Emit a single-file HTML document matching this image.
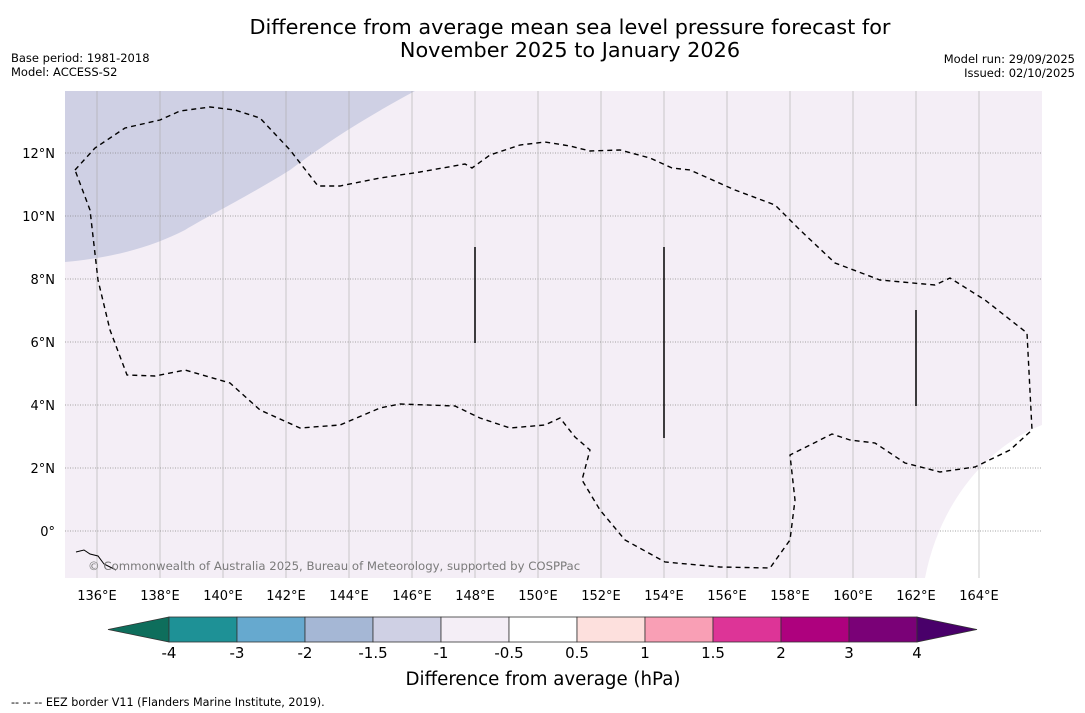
<!DOCTYPE html>
<html><head><meta charset="utf-8">
<style>
body{margin:0;background:#fff;font-family:"Liberation Sans","DejaVu Sans",sans-serif;}
#wrap{position:relative;width:1085px;height:713px;overflow:hidden;background:#fff}
svg text{font-family:"DejaVu Sans","Liberation Sans",sans-serif}
</style></head>
<body>
<div id="wrap">
<svg id="svg" width="1085" height="713" xmlns="http://www.w3.org/2000/svg">
<text x="570" y="34" font-size="20.8" text-anchor="middle">Difference from average mean sea level pressure forecast for</text>
<text x="570" y="57" font-size="20.8" text-anchor="middle">November 2025 to January 2026</text>
<text x="11" y="62" font-size="11.5">Base period: 1981-2018</text>
<text x="11" y="76" font-size="11.5">Model: ACCESS-S2</text>
<text x="1075" y="63" font-size="11.5" text-anchor="end">Model run: 29/09/2025</text>
<text x="1075" y="77" font-size="11.5" text-anchor="end">Issued: 02/10/2025</text>
<g id="map">
<rect x="65" y="91" width="977" height="487" fill="#f4eef6"/>
<path d="M65,91 L415,91 C370,115 330,140 290,170 C250,195 210,215 185,230 C150,248 110,258 65,262 Z" fill="#cfd0e4"/>
<path d="M1042,425 C990,445 940,500 925,578 L1042,578 Z" fill="#ffffff"/>
<g id="grid"></g>
<path d="M75,170 L95,148 L125,128 L160,120 L180,111 L210,107 L235,110 L260,118 L290,150 L318,186 L340,186 L380,178 L420,172 L465,164 L472,168 L490,155 L520,145 L545,142 L570,146 L590,151 L620,150 L650,158 L672,168 L690,170 L735,190 L775,205 L800,230 L835,263 L880,280 L935,285 L950,278 L985,300 L1027,333 L1032,430 L1010,450 L975,467 L940,472 L905,463 L875,443 L850,440 L832,434 L810,445 L790,455 L795,500 L790,540 L770,568 L720,567 L665,562 L625,540 L600,510 L582,480 L590,450 L575,437 L560,418 L545,425 L510,428 L480,418 L455,406 L400,404 L380,408 L340,425 L300,428 L260,410 L230,383 L185,370 L155,376 L127,375 L110,330 L98,280 L90,210 Z" fill="none" stroke="#000" stroke-width="1.4" stroke-dasharray="5,4"/>
<line x1="475" y1="247" x2="475" y2="343" stroke="#000" stroke-width="1.5"/>
<line x1="664" y1="247" x2="664" y2="438" stroke="#000" stroke-width="1.5"/>
<line x1="916" y1="310" x2="916" y2="406" stroke="#000" stroke-width="1.5"/>
<path d="M76,552 l8,-2 6,4 8,2 6,8 8,4 4,2" fill="none" stroke="#000" stroke-width="1"/>
<text x="88" y="570" font-size="11.7" fill="#7a7a7a">© Commonwealth of Australia 2025, Bureau of Meteorology, supported by COSPPac</text>
</g>
<g id="axes"></g>
<g id="cbar"></g>
<text x="543" y="685" font-size="18.2" text-anchor="middle">Difference from average (hPa)</text>
<text x="11" y="706" font-size="11.2">--  --  -- EEZ border V11 (Flanders Marine Institute, 2019).</text>
</svg>
</div>
<script>
const lonTicks=[136,138,140,142,144,146,148,150,152,154,156,158,160,162,164];
const latTicks=[0,2,4,6,8,10,12];
const cbarLabels=["-4","-3","-2","-1.5","-1","-0.5","0.5","1","1.5","2","3","4"];
const cbarColors=["#1e9196","#66a9cf","#a5b7d5","#cfd0e4","#f4eef6","#ffffff","#fde0dd","#f99fb5","#dd3497","#ae017e","#7a0177"];
const lowColor="#0e6e5c", highColor="#49006a";
const NS="http://www.w3.org/2000/svg";
const X=lon=>97+(lon-136)*31.5, Y=lat=>531-lat*31.5;
function mk(t,a,p){const e=document.createElementNS(NS,t);for(const k in a)e.setAttribute(k,a[k]);p.appendChild(e);return e;}
const grid=document.getElementById('grid'),axes=document.getElementById('axes'),cb=document.getElementById('cbar');
lonTicks.forEach(l=>{
 const g=mk('line',{x1:X(l),x2:X(l),y1:91,y2:578,stroke:'#aaa','stroke-width':0.6},grid);
 
 
 const t=mk('text',{x:X(l),y:600,'font-size':13,'text-anchor':'middle'},axes);t.textContent=l+'°E';
 
 
});
latTicks.forEach(l=>{
 const g=mk('line',{x1:65,x2:1042,y1:Y(l),y2:Y(l),stroke:'#888','stroke-width':0.7,'stroke-dasharray':'1,1.5'},grid);
 
 
 const t=mk('text',{x:55,y:Y(l)+5,'font-size':13,'text-anchor':'end'},axes);t.textContent=l===0?'0°':l+'°N';
 
 
});
const cx0=169,cw=68,cy=617,ch=25;
const lt=mk('polygon',{points:`108,${cy+ch/2} ${cx0},${cy} ${cx0},${cy+ch}`,fill:lowColor,stroke:'#333','stroke-width':0.8},cb);


cbarColors.forEach((c,i)=>{
 const r=mk('rect',{x:cx0+i*cw,y:cy,width:cw,height:ch,fill:c,stroke:'#333','stroke-width':0.8},cb);
 
 
});
const xe=cx0+cbarColors.length*cw;
const rt=mk('polygon',{points:`${xe},${cy} ${xe+60},${cy+ch/2} ${xe},${cy+ch}`,fill:highColor,stroke:'#333','stroke-width':0.8},cb);


cbarLabels.forEach((s,i)=>{
 const t=mk('text',{x:cx0+i*cw,y:658,'font-size':15,'text-anchor':'middle'},cb);t.textContent=s;
 
 
});
</script>
</body></html>
